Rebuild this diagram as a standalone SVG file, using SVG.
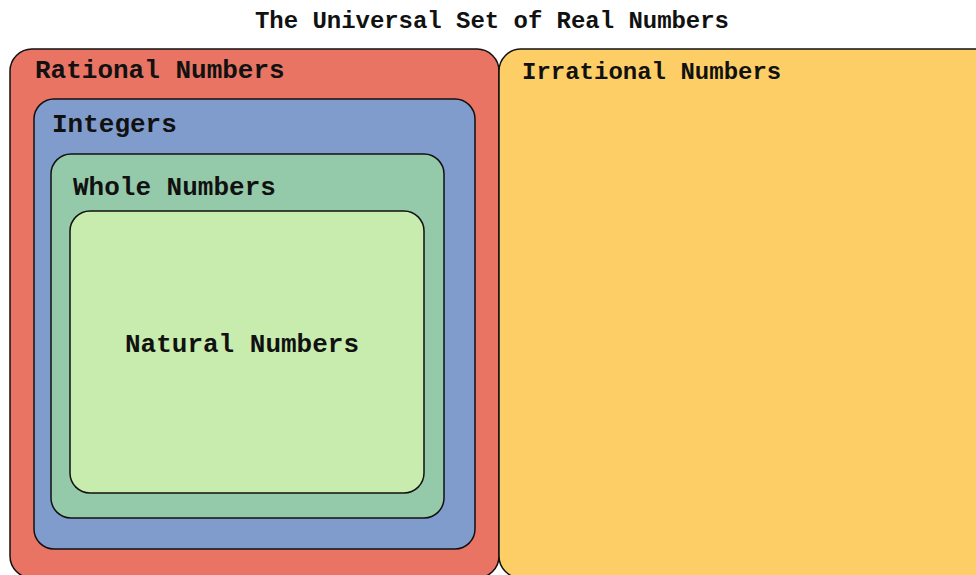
<svg xmlns="http://www.w3.org/2000/svg" width="976" height="575" viewBox="0 0 976 575">
<style>
.box{stroke:#111;stroke-width:1.5}
.t{font-family:"Liberation Mono","Courier New",monospace;font-weight:bold;fill:#111}
</style>
<rect width="976" height="575" fill="#fff"/>
<text class="t" x="492" y="28" font-size="24" text-anchor="middle" textLength="474">The Universal Set of Real Numbers</text>
<g id="rational">
<rect class="box" x="10" y="49" width="489" height="529" rx="22" fill="#E97463"/>
<text class="t" x="35" y="78" font-size="26">Rational Numbers</text>
</g>
<g id="irrational">
<rect class="box" x="499" y="49" width="500" height="529" rx="22" fill="#FDCE66"/>
<text class="t" x="522" y="79" font-size="24">Irrational Numbers</text>
</g>
<g id="integers">
<rect class="box" x="34" y="99" width="441" height="450" rx="20" fill="#7F9CCD"/>
<text class="t" x="52" y="132" font-size="26">Integers</text>
</g>
<g id="whole">
<rect class="box" x="51" y="154" width="393" height="364" rx="20" fill="#94CAA9"/>
<text class="t" x="73" y="195" font-size="26">Whole Numbers</text>
</g>
<g id="natural">
<rect class="box" x="70" y="211" width="354" height="282" rx="20" fill="#C8EBAE"/>
<text class="t" x="242" y="352" font-size="26" text-anchor="middle">Natural Numbers</text>
</g>
<g id="connectors"/>
</svg>
